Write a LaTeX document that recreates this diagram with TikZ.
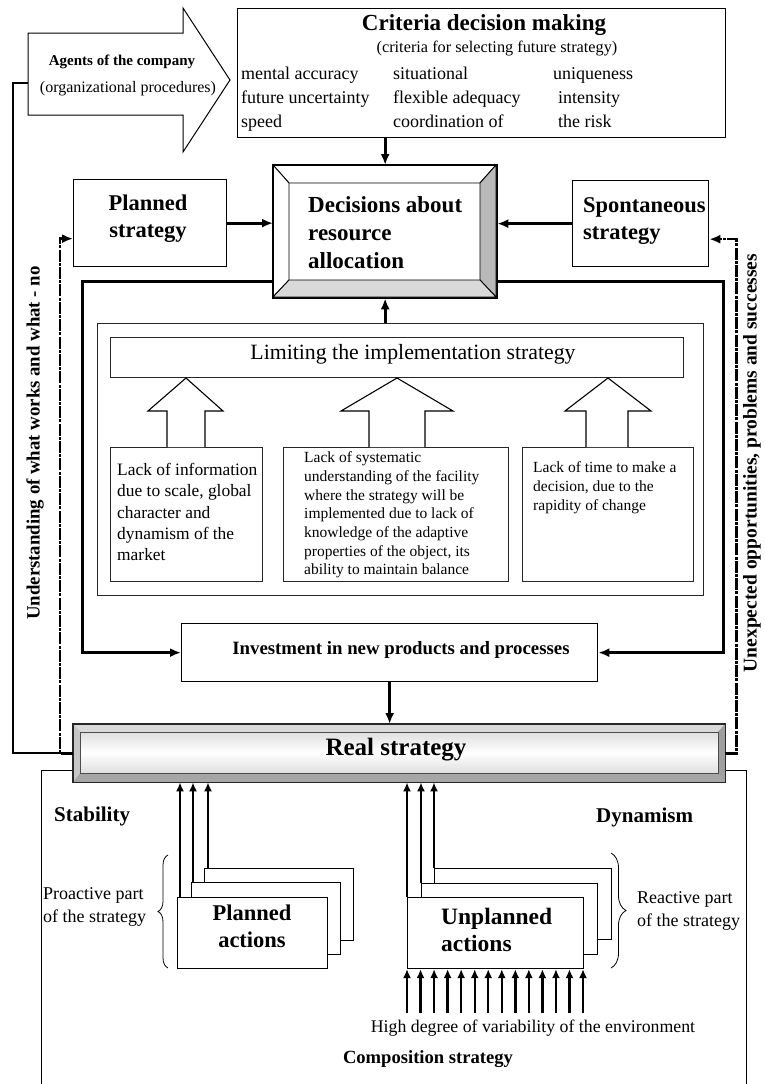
\documentclass[tikz,border=0pt]{standalone}
\usepackage{fontspec}
\setmainfont{Liberation Serif}
\usetikzlibrary{arrows.meta,decorations.pathreplacing,calc}
\begin{document}
\begin{tikzpicture}[x=1pt,y=-1pt,
  box/.style={draw=black, line width=1.3pt, inner sep=0pt, anchor=north west, fill=white},
  thinbox/.style={draw=black!85, line width=1pt, inner sep=0pt, anchor=north west, fill=white},
  txt/.style={inner sep=0pt, text height=0.7em, text depth=0.2em},
  mtxt/.style={inner sep=0pt, align=left},
  crow/.style={txt, anchor=west, font=\fontsize{18}{21}\selectfont},
  conn/.style={line width=3pt, -{Latex[length=11pt,width=9pt]}},
  sconn/.style={line width=2.4pt, -{Latex[length=9pt,width=8pt]}},
  fbline/.style={line width=2.2pt},
  fbdash/.style={line width=2.6pt, dash pattern=on 12pt off 1.2pt on 3pt off 1.2pt, -{Latex[length=11pt,width=9pt]}},
  blk/.style={draw=black, line width=1.1pt, fill=white, line join=miter},
  bev/.style={draw=black, line width=0.9pt},
  brc/.style={decorate, line width=0.8pt},
]
\useasboundingbox (0,0) rectangle (765,1084);

% ---------- Agents of the company (block arrow)
\draw[line width=1pt, fill=white] (28,33) -- (183,33) -- (183,8) -- (230,80) -- (183,152) -- (183,115) -- (28,115) -- cycle;
\node[txt, font=\bfseries\fontsize{15}{18}\selectfont] (agents) at (122,63) {Agents of the company};
\node[txt, font=\fontsize{16}{19}\selectfont] (agentsub) at (128,90) {(organizational procedures)};
\coordinate (agin) at (28,83);

% ---------- Criteria
\node[box, minimum width=488pt, minimum height=129pt] (crit) at (237,8) {};
\node[txt, font=\bfseries\fontsize{23}{27}\selectfont] (crittitle) at (484,28) {Criteria decision making};
\node[txt, font=\fontsize{16.3}{19}\selectfont] (critsub) at (497,50) {(criteria for selecting future strategy)};
\node[crow] (c11) at (241,77) {mental accuracy};
\node[crow] (c21) at (393,77) {situational};
\node[crow] (c31) at (553,77) {uniqueness};
\node[crow] (c12) at (241,101) {future uncertainty};
\node[crow] (c22) at (393,101) {flexible adequacy};
\node[crow] (c32) at (558,101) {intensity};
\node[crow] (c13) at (241,125) {speed};
\node[crow] (c23) at (393,125) {coordination of};
\node[crow] (c33) at (558,125) {the risk};

% ---------- Decisions (bevelled)
\node[box, minimum width=223pt, minimum height=132pt] (dec) at (273,165) {};
\draw[bev, fill=white] (273,165) -- (496,165) -- (480,183) -- (289,183) -- cycle;
\draw[bev, fill=white] (273,165) -- (289,183) -- (289,280) -- (273,297) -- cycle;
\draw[bev, fill=gray!55] (496,165) -- (496,297) -- (480,280) -- (480,183) -- cycle;
\draw[bev, fill=gray!30] (273,297) -- (496,297) -- (480,280) -- (289,280) -- cycle;
\draw[line width=1.3pt] (dec.north west) rectangle (dec.south east);
\node[mtxt, anchor=west, font=\bfseries\fontsize{23}{28}\selectfont] (dectxt) at (308,233) {Decisions about\\resource\\allocation};

% ---------- Planned / Spontaneous strategy
\node[box, minimum width=153pt, minimum height=87pt] (plan) at (73,179) {};
\node[mtxt, align=center, font=\bfseries\fontsize{22.5}{27}\selectfont] (plantxt) at (148,219) {Planned\\strategy};
\node[box, minimum width=136pt, minimum height=86pt] (spont) at (572,180) {};
\node[mtxt, anchor=west, font=\bfseries\fontsize{22.5}{27}\selectfont] (sponttxt) at (583,221) {Spontaneous\\strategy};

\draw[conn] (crit.south -| dec.north) -- (dec.north);
\draw[conn] (plan.east) -- (plan.east -| dec.west);
\draw[conn] (spont.west) -- (spont.west -| dec.east);

% ---------- Limiting frame
\node[thinbox, minimum width=606pt, minimum height=272pt] (lframe) at (97,323) {};
\node[thinbox, minimum width=573pt, minimum height=40pt] (lim) at (110,337) {};
\node[txt, font=\fontsize{21.8}{26}\selectfont] (limtxt) at (413,357) {Limiting the implementation strategy};
\draw[conn] (dec.south |- lframe.north) -- (dec.south);

\node[thinbox, minimum width=152pt, minimum height=134pt] (b1) at (110,447) {};
\node[thinbox, minimum width=225pt, minimum height=134pt] (b2) at (283,447) {};
\node[thinbox, minimum width=171pt, minimum height=134pt] (b3) at (522,447) {};
\draw[blk] (167,447) -- (167,411) -- (148,411) -- (186,378) -- (223,411) -- (205,411) -- (205,447);
\draw[blk] (369,447) -- (369,411) -- (341,411) -- (397,378) -- (453,411) -- (425,411) -- (425,447);
\draw[blk] (586,447) -- (586,411) -- (565,411) -- (608,378) -- (651,411) -- (628,411) -- (628,447);
\node[mtxt, anchor=west, font=\fontsize{17.4}{21.2}\selectfont] (b1txt) at (117,512) {Lack of information\\due to scale, global\\character and\\dynamism of the\\market};
\node[mtxt, anchor=west, font=\fontsize{15.5}{18.7}\selectfont] (b2txt) at (304,515) {Lack of systematic\\understanding of the facility\\where the strategy will be\\implemented due to lack of\\knowledge of the adaptive\\properties of the object, its\\ability to maintain balance};
\node[mtxt, anchor=west, font=\fontsize{15.5}{19}\selectfont] (b3txt) at (533,488) {Lack of time to make a\\decision, due to the\\rapidity of change};

% ---------- Investment
\node[box, minimum width=416pt, minimum height=58pt] (inv) at (181,623) {};
\node[txt, font=\bfseries\fontsize{18.8}{22}\selectfont] (invtxt) at (401,652) {Investment in new products and processes};
\draw[conn] ([yshift=17pt]dec.south west) -- ++(-191,0) |- (inv.west);
\draw[conn] ([yshift=17pt]dec.south east) -- ++(226,0) |- (inv.east);

% ---------- Composition frame
\draw[line width=1pt] (41,1095) -- (41,770) -- (746,770) -- (746,1095);

% ---------- Real strategy (bevelled)
\node[inner sep=0pt, anchor=north west, minimum width=652pt, minimum height=58pt] (real) at (73,724) {};
\fill[gray!55] (73,724) rectangle (725,782);
\fill[gray!30] (73,724) -- (725,724) -- (718,732) -- (80,732) -- cycle;
\fill[gray!70] (73,782) -- (725,782) -- (718,773) -- (80,773) -- cycle;
\fill[gray!75] (725,724) -- (725,782) -- (718,773) -- (718,732) -- cycle;
\fill[gray!45] (73,724) -- (80,732) -- (80,773) -- (73,782) -- cycle;
\shade[top color=gray!25, bottom color=gray!25, middle color=white] (80,732) rectangle (718,773);
\draw[gray!60!black, line width=0.8pt] (80,732) rectangle (718,773);
\draw[black!85, line width=1.3pt] (real.north west) rectangle (real.south east);
\node[txt, font=\bfseries\fontsize{25}{30}\selectfont] (realtxt) at (396,753) {Real strategy};
\draw[conn] (inv.south) -- (inv.south |- real.north);

% ---------- feedback loops
\draw[fbline] (real.west) -| ([xshift=-15pt]agin) -- (agin);
\coordinate (pin) at ([yshift=-15.5pt]plan.west);
\coordinate (sin) at ([yshift=-15.5pt]spont.east);
\draw[fbdash] (real.west) -- ++(-13,0) |- (pin);
\draw[fbdash] (real.east) -- ++(11,0) |- (sin);
\node[rotate=90, inner sep=0pt, font=\bfseries\fontsize{18.8}{22}\selectfont] (ltxt) at (35,443) {Understanding of what works and what - no};
\node[rotate=90, inner sep=0pt, font=\bfseries\fontsize{19.5}{22}\selectfont] (rtxt) at (752,463) {Unexpected opportunities, problems and successes};

% ---------- bottom: stability / dynamism
\node[txt, anchor=west, font=\bfseries\fontsize{21}{24}\selectfont] (stab) at (54,819) {Stability};
\node[txt, anchor=west, font=\bfseries\fontsize{21}{24}\selectfont] (dyn) at (596,820) {Dynamism};

\node[box, line width=1.1pt, minimum width=149pt, minimum height=72pt] (pa3) at (204,868) {};
\node[box, line width=1.1pt, minimum width=149pt, minimum height=72pt] (pa2) at (191,882) {};
\node[box, line width=1.1pt, minimum width=150pt, minimum height=71pt] (pa1) at (177,897) {};
\node[mtxt, align=center, font=\bfseries\fontsize{22.5}{27}\selectfont] (patxt) at (252,926) {Planned\\actions};
\draw[sconn] ([xshift=3pt]pa1.north west) -- ([xshift=3pt]pa1.north west |- real.south);
\draw[sconn] ([xshift=2pt]pa2.north west) -- ([xshift=2pt]pa2.north west |- real.south);
\draw[sconn] ([xshift=4pt]pa3.north west) -- ([xshift=4pt]pa3.north west |- real.south);

\node[box, line width=1.1pt, minimum width=177pt, minimum height=71pt] (ua3) at (434,868) {};
\node[box, line width=1.1pt, minimum width=176pt, minimum height=71pt] (ua2) at (421,883) {};
\node[box, line width=1.1pt, minimum width=176pt, minimum height=71pt] (ua1) at (407,897) {};
\node[mtxt, anchor=west, font=\bfseries\fontsize{23.5}{27}\selectfont] (uatxt) at (441,930) {Unplanned\\actions};
\draw[sconn] (ua1.north west) -- (ua1.north west |- real.south);
\draw[sconn] (ua2.north west) -- (ua2.north west |- real.south);
\draw[sconn] (ua3.north west) -- (ua3.north west |- real.south);

\foreach \i in {0,...,13}
  \draw[sconn] ([xshift=\i*13.54pt, yshift=-44pt]ua1.south west) -- ([xshift=\i*13.54pt]ua1.south west);

\draw[brc, decoration={brace, amplitude=10pt}] (168,968) -- (168,855);
\draw[brc, decoration={brace, amplitude=15pt}] (611,853) -- (611,968);
\node[mtxt, anchor=west, font=\fontsize{18}{23}\selectfont] (protxt) at (43,907) {Proactive part\\of the strategy};
\node[mtxt, anchor=west, font=\fontsize{18}{23}\selectfont] (reatxt) at (637,911) {Reactive part\\of the strategy};

\node[txt, font=\fontsize{17.8}{21}\selectfont] (envtxt) at (533,1030) {High degree of variability of the environment};
\node[txt, font=\bfseries\fontsize{18.6}{22}\selectfont] (comptxt) at (428,1061) {Composition strategy};
\end{tikzpicture}
\end{document}
